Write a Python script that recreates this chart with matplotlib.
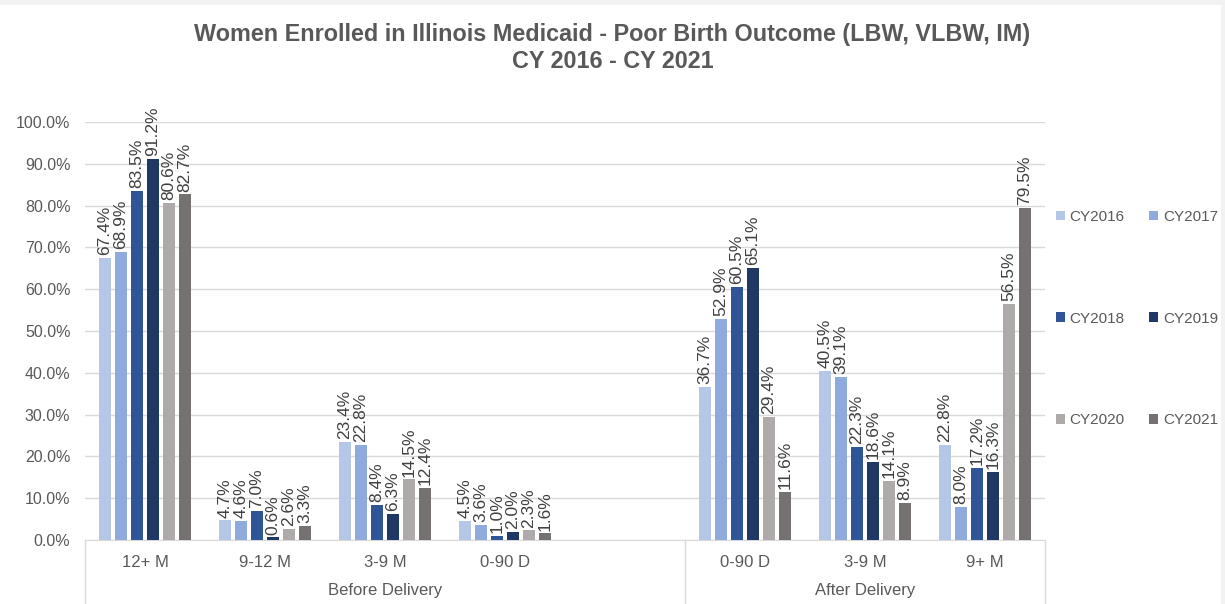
import numpy as np
import matplotlib
matplotlib.use("Agg")
import matplotlib.pyplot as plt
import matplotlib.transforms as mtransforms
from matplotlib.patches import Rectangle

plt.rcParams['font.family'] = ['Liberation Sans', 'DejaVu Sans']

# data
categories = ["12+ M", "9-12 M", "3-9 M", "0-90 D", "", "0-90 D", "3-9 M", "9+ M"]
groups = ["Before Delivery", "After Delivery"]
series = ["CY2016", "CY2017", "CY2018", "CY2019", "CY2020", "CY2021"]
cy2016 = [67.4, 4.7, 23.4, 4.5, None, 36.7, 40.5, 22.8]
cy2017 = [68.9, 4.6, 22.8, 3.6, None, 52.9, 39.1, 8.0]
cy2018 = [83.5, 7.0, 8.4, 1.0, None, 60.5, 22.3, 17.2]
cy2019 = [91.2, 0.6, 6.3, 2.0, None, 65.1, 18.6, 16.3]
cy2020 = [80.6, 2.6, 14.5, 2.3, None, 29.4, 14.1, 56.5]
cy2021 = [82.7, 3.3, 12.4, 1.6, None, 11.6, 8.9, 79.5]
values = [cy2016, cy2017, cy2018, cy2019, cy2020, cy2021]
colors = ["#b4c7e7", "#8faadc", "#2f5597", "#1f3864", "#aeaaaa", "#767171"]

txt = "#595959"

fig = plt.figure(figsize=(12.25, 6.04), dpi=100, facecolor="#f2f2f2")
fig.patches.append(Rectangle((0.0, 0.0), 0.9965, 0.992, transform=fig.transFigure,
                             facecolor="white", edgecolor="none", zorder=-1))
ax = fig.add_axes([85/1225, 64/604, 960/1225, 418/604])
ax.set_facecolor("none")

x = np.arange(len(categories))
w = 0.1
step = 0.133
handles = []
for i, (name, vals, c) in enumerate(zip(series, values, colors)):
    xs = [xi + (i - 2.5) * step for xi, v in zip(x, vals) if v is not None]
    vs = [v for v in vals if v is not None]
    bars = ax.bar(xs, vs, width=w, color=c, label=name, zorder=3)
    handles.append(bars)
    for b, v in zip(bars, vs):
        ax.annotate(f"{v:.1f}%", (b.get_x() + b.get_width() / 2, v),
                    xytext=(0, 2), textcoords="offset points", rotation=90,
                    ha="center", va="bottom", fontsize=12.5, color="#404040")

ax.set_xlim(-0.5, len(categories) - 0.5)
ax.set_ylim(0, 100)
ax.set_yticks(np.arange(0, 101, 10))
ax.set_yticklabels([f"{t:.1f}%" for t in range(0, 101, 10)], fontsize=11.5, color=txt)
ax.yaxis.grid(True, color="#d9d9d9", linewidth=1, zorder=0)
ax.tick_params(axis="y", length=0, pad=10.5)
ax.tick_params(axis="x", length=0, pad=11)
ax.set_xticks(x)
ax.set_xticklabels(categories, fontsize=12, color=txt)
for s in ["left", "right", "top"]:
    ax.spines[s].set_visible(False)
ax.spines["bottom"].set_color("#d9d9d9")

# group labels and dividers
trans = mtransforms.blended_transform_factory(ax.transData, ax.transAxes)
for xd in [-0.5, 4.5, 7.5]:
    ax.plot([xd, xd], [0, -0.16], transform=trans, color="#d9d9d9",
            linewidth=1, clip_on=False)
ax.text(2.0, -0.12, groups[0], transform=trans, ha="center", va="center",
        fontsize=12, color=txt)
ax.text(6.0, -0.12, groups[1], transform=trans, ha="center", va="center",
        fontsize=12, color=txt)

fig.text(0.5, 1 - 48/604, "Women Enrolled in Illinois Medicaid - Poor Birth Outcome (LBW, VLBW, IM)\nCY 2016 - CY 2021",
         ha="center", va="center", fontsize=16.8, fontweight="bold", color=txt,
         linespacing=1.2)

# legend filled row by row: reorder for column-major layout
order = [0, 2, 4, 1, 3, 5]
fig.legend([handles[k] for k in order], [series[k] for k in order],
           loc="upper left", bbox_to_anchor=(1042/1225, 1 - 196/604), ncol=2,
           frameon=False, fontsize=11, labelcolor=txt, handlelength=0.6,
           handleheight=0.6, handletextpad=0.3, columnspacing=1.6,
           labelspacing=5.75)

fig.savefig("out.png", dpi=100, facecolor=fig.get_facecolor())
